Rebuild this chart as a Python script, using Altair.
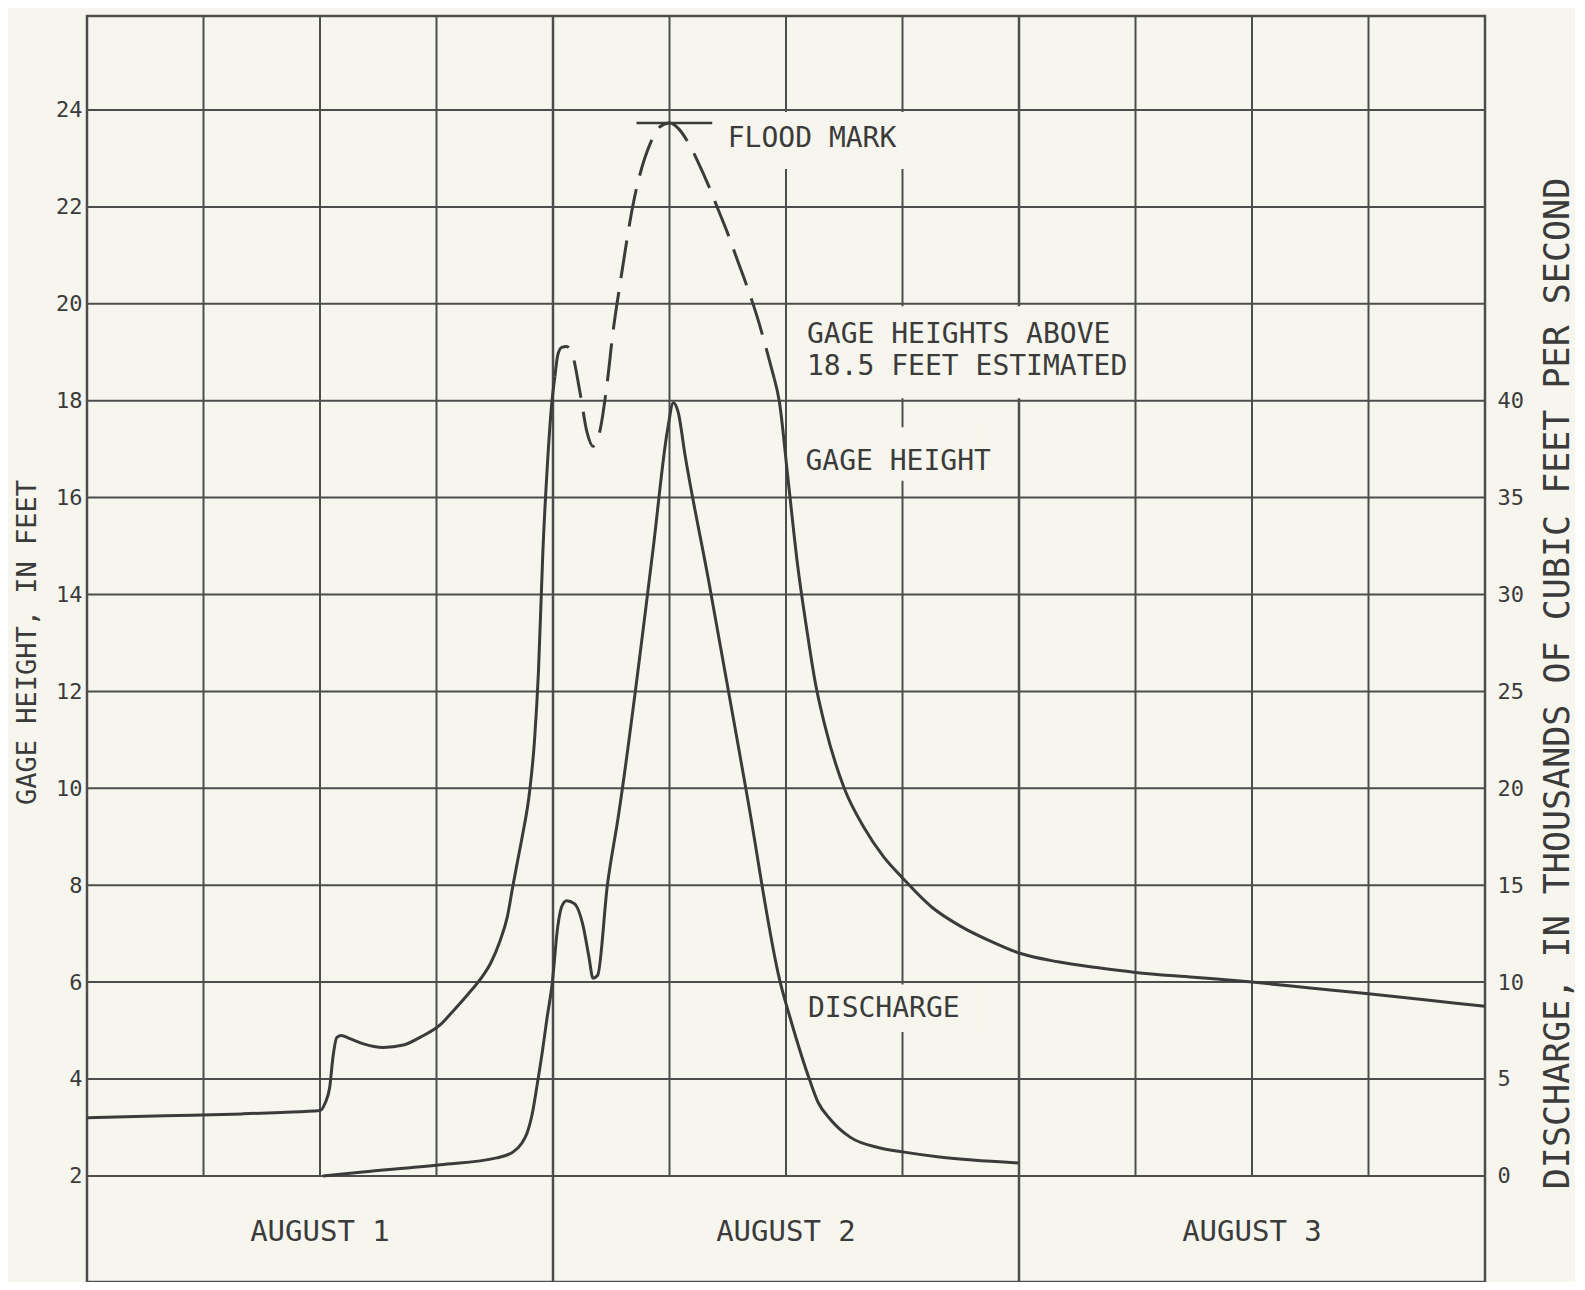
import altair as alt
import pandas as pd

# ---------------- data (hours from 00:00 Aug 1, gage height ft, discharge kcfs) ----------------
gage_solid1_h = [0, 4, 8, 10, 12.0, 12.26, 12.5, 12.67, 12.87, 13.1, 13.5, 14.2, 15.25, 16.3, 17.15,
                 18.2, 18.85, 19.6, 20.24, 20.8, 21.27, 21.65, 21.94, 22.2, 22.4, 22.8, 23.05, 23.25,
                 23.48, 23.7, 23.95, 24.1]
gage_solid1_v = [3.20, 3.24, 3.28, 3.31, 3.35, 3.5, 3.83, 4.46, 4.86, 4.90, 4.84, 4.73, 4.65, 4.70, 4.86,
                 5.12, 5.40, 5.74, 6.05, 6.40, 6.85, 7.35, 8.00, 8.55, 8.97, 9.95, 11.0, 12.4,
                 14.9, 16.6, 18.0, 18.5]

gage_est_h = [24.1, 24.25, 24.45, 24.7, 25.0, 25.4, 25.75, 26.06, 26.4, 26.8, 27.1, 27.45, 28.2, 29.0,
              29.5, 30.0, 30.5, 31.0, 31.5, 32.0, 32.5, 33.0, 33.5, 34.0, 34.5, 35.0, 35.4]
gage_est_v = [18.5, 18.95, 19.1, 19.12, 18.95, 18.15, 17.35, 17.06, 17.35, 18.4, 19.45, 20.4, 22.2, 23.3,
              23.65, 23.73, 23.6, 23.3, 22.9, 22.45, 21.95, 21.45, 20.9, 20.35, 19.75, 19.05, 18.45]

gage_solid2_h = [35.4, 35.65, 36.1, 36.6, 37.1, 37.5, 38.0, 39.0, 40.0, 41.0, 42.0, 43.5, 45.0, 46.5,
                 48.0, 50.0, 52.0, 54.0, 57.0, 60.0, 63.0, 66.0, 69.0, 72.0]
gage_solid2_v = [18.45, 18.0, 16.4, 14.6, 13.2, 12.2, 11.3, 10.0, 9.2, 8.6, 8.15, 7.55, 7.15, 6.85,
                 6.6, 6.42, 6.3, 6.2, 6.1, 6.0, 5.88, 5.76, 5.63, 5.5]

discharge_h = [12.15, 14.2, 18.2, 21.1, 21.95, 22.4, 22.66, 22.95, 23.2, 23.45, 23.7, 23.95, 24.25, 24.45,
               24.7, 25.1, 25.55, 25.85, 26.06, 26.3, 26.8, 27.35, 29.15, 29.9, 30.2, 30.45, 30.8, 32.0,
               34.0, 35.7, 36.2, 37.2, 37.65, 38.3, 39.3, 40.85, 42.0, 43.9, 45.6, 47.95]
discharge_v = [0.0, 0.2, 0.57, 0.93, 1.24, 1.7, 2.2, 3.3, 4.8, 6.4, 8.2, 9.85, 12.9, 13.9,
               14.2, 14.05, 12.9, 11.3, 10.2, 10.35, 15.0, 18.45, 32.3, 38.5, 39.9, 39.4, 37.2, 30.8,
               19.6, 10.0, 8.2, 5.0, 3.8, 2.9, 2.0, 1.44, 1.24, 0.98, 0.82, 0.67]

gage_ticks = [2, 4, 6, 8, 10, 12, 14, 16, 18, 20, 22, 24]
discharge_ticks = [0, 5, 10, 15, 20, 25, 30, 35, 40]
quarter_lines = [6, 12, 18, 30, 36, 42, 54, 60, 66]
day_lines = [24, 48]
day_label_h = [12, 36, 60]
day_labels = ["AUGUST 1", "AUGUST 2", "AUGUST 3"]

note_text = ["FLOOD MARK", "GAGE HEIGHTS ABOVE", "18.5 FEET ESTIMATED", "GAGE HEIGHT", "DISCHARGE"]
note_h = [33.0, 37.08, 37.08, 37.0, 37.13]
note_g = [23.4, 19.35, 18.7, 16.73, 5.45]

flood_mark_h = [28.3, 32.2]
flood_mark_g = 23.73

# gaps in grid behind lettering (h0, h1, g0, g1)
gap_h0 = [33.0, 40.0, 41.0, 40.0]
gap_h1 = [43.0, 53.0, 46.0, 46.0]
gap_g0 = [22.78, 18.05, 16.35, 4.97]
gap_g1 = [23.96, 19.95, 17.45, 5.95]

H_MIN, H_MAX = 0, 72
G_MIN, G_MAX = -0.19, 25.94
RATIO = 2.5  # kcfs per foot of chart
Q_MIN, Q_MAX = (G_MIN - 2) * RATIO, (G_MAX - 2) * RATIO

PAPER = "#f7f6ee"
INK = "#3b3b3b"
GRID = "#4d4d4d"
FONT = "DejaVu Sans Mono"

xs = alt.Scale(domain=[H_MIN, H_MAX], nice=False, zero=False)
gs = alt.Scale(domain=[G_MIN, G_MAX], nice=False, zero=False)
qs = alt.Scale(domain=[Q_MIN, Q_MAX], nice=False, zero=False)

hgrid = pd.DataFrame({"g": gage_ticks, "h0": H_MIN, "h1": H_MAX})
qgrid = pd.DataFrame({"h": quarter_lines, "g0": 2, "g1": G_MAX})
dgrid = pd.DataFrame({"h": day_lines, "g0": G_MIN, "g1": G_MAX})
frame = pd.DataFrame({"h0": [H_MIN], "h1": [H_MAX], "g0": [G_MIN], "g1": [G_MAX]})
gaps = pd.DataFrame({"h0": gap_h0, "h1": gap_h1, "g0": gap_g0, "g1": gap_g1})
notes = pd.DataFrame({"h": note_h, "g": note_g, "t": note_text})
days = pd.DataFrame({"h": day_label_h, "g": 0.85, "t": day_labels})
fm = pd.DataFrame({"h0": [flood_mark_h[0]], "h1": [flood_mark_h[1]], "g": [flood_mark_g]})

seg1 = pd.DataFrame({"h": gage_solid1_h, "g": gage_solid1_v, "seg": "a"})
seg2 = pd.DataFrame({"h": gage_solid2_h, "g": gage_solid2_v, "seg": "b"})
gsolid = pd.concat([seg1, seg2], ignore_index=True)
gest = pd.DataFrame({"h": gage_est_h, "g": gage_est_v})
dis = pd.DataFrame({"h": discharge_h, "q": discharge_v})

left_axis = alt.Axis(orient="left", values=gage_ticks, ticks=False, domain=False, grid=False,
                     labelFont=FONT, labelFontSize=22, labelColor=INK, labelPadding=5,
                     title="GAGE HEIGHT, IN FEET", titleFont=FONT, titleFontSize=27,
                     titleFontWeight="normal", titleColor=INK, titleAngle=270,
                     titleAlign="center", titleBaseline="middle", titleX=-60, titleY=626)

right_axis = alt.Axis(orient="right", values=discharge_ticks, ticks=False, domain=False, grid=False,
                      labelFont=FONT, labelFontSize=22, labelColor=INK, labelPadding=12,
                      labelAlign="left",
                      title="DISCHARGE, IN THOUSANDS OF CUBIC FEET PER SECOND", titleFont=FONT,
                      titleFontSize=35, titleFontWeight="normal", titleColor=INK, titleAngle=270,
                      titleAlign="center", titleBaseline="middle", titleX=72, titleY=667)

X = lambda f: alt.X(f, scale=xs, axis=None)
G = lambda f: alt.Y(f, scale=gs, axis=None)

hlines = alt.Chart(hgrid).mark_rule(color=GRID, strokeWidth=2).encode(
    x=X("h0:Q"), x2="h1:Q", y=alt.Y("g:Q", scale=gs, axis=left_axis))
qlines = alt.Chart(qgrid).mark_rule(color=GRID, strokeWidth=2).encode(
    x=X("h:Q"), y=G("g0:Q"), y2="g1:Q")
dlines = alt.Chart(dgrid).mark_rule(color=GRID, strokeWidth=2.5).encode(
    x=X("h:Q"), y=G("g0:Q"), y2="g1:Q")
gaprects = alt.Chart(gaps).mark_rect(color=PAPER).encode(
    x=X("h0:Q"), x2="h1:Q", y=G("g0:Q"), y2="g1:Q")
border = alt.Chart(frame).mark_rect(filled=False, stroke=GRID, strokeWidth=2.5).encode(
    x=X("h0:Q"), x2="h1:Q", y=G("g0:Q"), y2="g1:Q")

solid = alt.Chart(gsolid).mark_line(color=INK, strokeWidth=3, interpolate="monotone").encode(
    x=X("h:Q"), y=G("g:Q"), detail="seg:N")
est = alt.Chart(gest).mark_line(color=INK, strokeWidth=3, interpolate="monotone",
                                strokeDash=[38, 14]).encode(x=X("h:Q"), y=G("g:Q"))
fmline = alt.Chart(fm).mark_rule(color=INK, strokeWidth=2.5).encode(
    x=X("h0:Q"), x2="h1:Q", y=G("g:Q"))
note_marks = alt.Chart(notes).mark_text(font=FONT, fontSize=28, color=INK, align="left",
                                        baseline="middle").encode(
    x=X("h:Q"), y=G("g:Q"), text="t:N")
day_marks = alt.Chart(days).mark_text(font=FONT, fontSize=29, color=INK, align="center",
                                      baseline="middle").encode(
    x=X("h:Q"), y=G("g:Q"), text="t:N")

dis_line = alt.Chart(dis).mark_line(color=INK, strokeWidth=3, interpolate="monotone").encode(
    x=X("h:Q"), y=alt.Y("q:Q", scale=qs, axis=right_axis))

chart = alt.layer(hlines, qlines, dlines, gaprects, border, fmline, solid, est,
                  note_marks, day_marks, dis_line).resolve_scale(y="independent").properties(
    width=1398, height=1266,
    autosize=alt.AutoSizeParams(type="none"),
    padding={"left": 79, "top": 8, "right": 90, "bottom": 0},
    background=PAPER,
).configure_view(stroke=None)

chart.save("out.html", embed_options={"renderer": "svg", "actions": False})
